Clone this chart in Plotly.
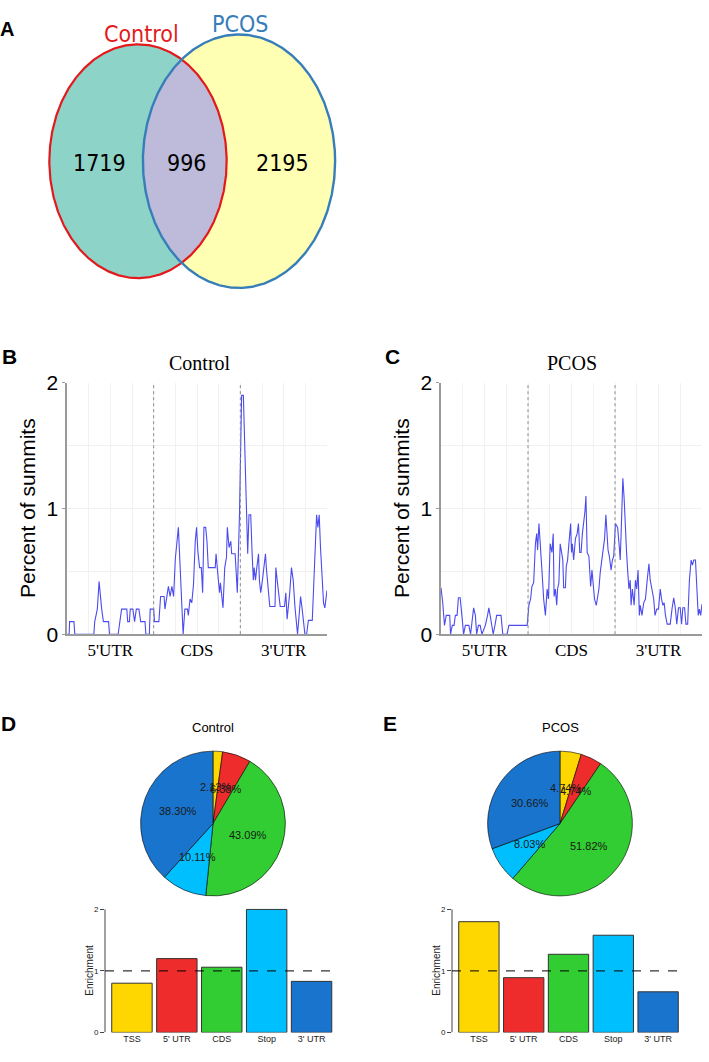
import numpy as np
import plotly.graph_objects as go

W, H = 709, 1062

# ---------------- data ----------------
venn_only_control = 1719
venn_shared = 996
venn_only_pcos = 2195
venn_names = ["Control", "PCOS"]

region_labels = ["5'UTR", "CDS", "3'UTR"]

ctrl_x = [0.00, 0.025, 0.03, 0.08, 0.09, 0.31, 0.32, 0.35, 0.37, 0.385, 0.40, 0.42, 0.48, 0.49, 0.59, 0.61,
          0.63, 0.69, 0.70, 0.72, 0.73, 0.76, 0.78, 0.80, 0.83, 0.85, 0.90, 0.91, 0.95, 0.96, 1.00, 1.01,
          1.06, 1.08, 1.12, 1.13, 1.15, 1.17, 1.19, 1.21, 1.23, 1.25, 1.285, 1.31, 1.33, 1.34, 1.36, 1.39,
          1.40, 1.42, 1.44, 1.46, 1.48, 1.495, 1.51, 1.53, 1.55, 1.565, 1.58, 1.60, 1.615, 1.63, 1.71, 1.72,
          1.735, 1.76, 1.77, 1.78, 1.80, 1.82, 1.84, 1.85, 1.87, 1.89, 1.90, 1.94, 1.95, 1.965, 1.99, 2.00,
          2.015, 2.035, 2.05, 2.07, 2.085, 2.10, 2.12, 2.135, 2.15, 2.16, 2.175, 2.19, 2.21, 2.22, 2.235,
          2.255, 2.27, 2.29, 2.30, 2.315, 2.33, 2.34, 2.40, 2.41, 2.425, 2.44, 2.46, 2.51, 2.525, 2.54,
          2.555, 2.57, 2.59, 2.61, 2.63, 2.65, 2.66, 2.675, 2.695, 2.71, 2.725, 2.745, 2.765, 2.785, 2.83,
          2.85, 2.865, 2.88, 2.895, 2.91, 2.925, 2.94, 2.96, 2.975, 3.00]
ctrl_y = [0, 0, 0.1, 0.1, 0, 0, 0.1, 0.2, 0.42, 0.3, 0.2, 0.1, 0.1, 0, 0, 0.1,
          0.2, 0.2, 0.1, 0.1, 0.2, 0.2, 0.1, 0.2, 0.2, 0.1, 0.1, 0, 0, 0.2, 0.2, 0.1,
          0.1, 0.3, 0.3, 0.2, 0.3, 0.38, 0.3, 0.38, 0.3, 0.6, 0.85, 0.5, 0.15, 0, 0.2, 0.2,
          0.15, 0.28, 0.25, 0.4, 0.74, 0.85, 0.66, 0.53, 0.53, 0.33, 0.85, 0.85, 0.74, 0.53, 0.53, 0.64,
          0.52, 0.33, 0.41, 0.33, 0.21, 0.53, 0.61, 0.85, 0.69, 0.74, 0.64, 0.64, 0.53, 0.33, 0.95, 1.47,
          1.90, 1.90, 1.47, 1.03, 0.64, 0.95, 0.95, 0.66, 0.43, 0.53, 0.43, 0.53, 0.64, 0.43, 0.33,
          0.43, 0.53, 0.64, 0.53, 0.43, 0.33, 0.22, 0.22, 0.53, 0.43, 0.33, 0.22, 0.22, 0.33, 0.12,
          0.22, 0.33, 0.53, 0.43, 0.22, 0.10, 0, 0.12, 0.30, 0.22, 0.12, 0, 0, 0.11, 0.11,
          0.46, 0.74, 0.95, 0.85, 0.95, 0.69, 0.46, 0.25, 0.21, 0.35]

pcos_x = [0.00, 0.02, 0.04, 0.06, 0.10, 0.11, 0.13, 0.15, 0.165, 0.185, 0.20, 0.22, 0.24, 0.26, 0.28, 0.32,
          0.34, 0.36, 0.375, 0.395, 0.41, 0.43, 0.45, 0.47, 0.51, 0.535, 0.55, 0.565, 0.58, 0.60, 0.62,
          0.64, 0.69, 0.71, 0.76, 0.78, 0.99, 1.01, 1.03, 1.045, 1.065, 1.085, 1.10, 1.11, 1.126, 1.14,
          1.16, 1.18, 1.20, 1.22, 1.235, 1.255, 1.275, 1.29, 1.30, 1.315, 1.33, 1.34, 1.355, 1.37, 1.385,
          1.40, 1.41, 1.43, 1.44, 1.455, 1.47, 1.49, 1.50, 1.51, 1.525, 1.545, 1.565, 1.58, 1.595, 1.61,
          1.625, 1.64, 1.655, 1.666, 1.68, 1.70, 1.72, 1.735, 1.75, 1.765, 1.785, 1.80, 1.815, 1.83, 1.85,
          1.87, 1.88, 1.895, 1.91, 1.92, 1.935, 1.955, 1.97, 1.985, 2.005, 2.03, 2.05, 2.06, 2.075, 2.09,
          2.105, 2.12, 2.133, 2.145, 2.16, 2.175, 2.185, 2.20, 2.22, 2.235, 2.25, 2.265, 2.28, 2.29, 2.31,
          2.33, 2.35, 2.37, 2.39, 2.405, 2.425, 2.445, 2.46, 2.48, 2.50, 2.52, 2.535, 2.55, 2.565, 2.58,
          2.60, 2.635, 2.655, 2.675, 2.695, 2.71, 2.73, 2.75, 2.765, 2.78, 2.80, 2.815, 2.835, 2.855,
          2.875, 2.89, 2.905, 2.925, 2.94, 2.957, 2.97, 2.985, 3.00]
pcos_y = [0.37, 0.25, 0.07, 0.15, 0.15, 0, 0.07, 0.07, 0.15, 0.15, 0.29, 0.29, 0.15, 0, 0.07, 0.07,
          0, 0.15, 0.21, 0.15, 0, 0.07, 0.07, 0, 0.07, 0.15, 0.21, 0.15, 0.07, 0, 0.07,
          0.15, 0.15, 0, 0, 0.07, 0.07, 0.23, 0.28, 0.38, 0.41, 0.72, 0.80, 0.67, 0.88, 0.69,
          0.51, 0.28, 0.15, 0.36, 0.28, 0.72, 0.65, 0.80, 0.30, 0.36, 0.23, 0.36, 0.41, 0.72, 0.65,
          0.59, 0.37, 0.37, 0.54, 0.59, 0.72, 0.88, 0.65, 0.72, 0.59, 0.76, 0.80, 0.88, 0.65, 0.65,
          0.80, 0.88, 0.98, 1.10, 0.65, 0.62, 0.38, 0.51, 0.36, 0.28, 0.23, 0.30, 0.36, 0.49, 0.59,
          0.73, 0.76, 0.95, 0.82, 0.67, 0.62, 0.51, 0.59, 0.62, 0.88, 0.85, 0.69, 0.59, 0.90, 1.24,
          1.08, 0.80, 0.65, 0.51, 0.36, 0.43, 0.23, 0.36, 0.23, 0.43, 0.36, 0.51, 0.15, 0.23, 0.15,
          0.25, 0.28, 0.43, 0.56, 0.43, 0.36, 0.28, 0.15, 0.20, 0.20, 0.36, 0.28, 0.23, 0.25, 0.15,
          0.08, 0.08, 0.20, 0.29, 0.20, 0.08, 0.21, 0.21, 0.08, 0.21, 0.21, 0.08, 0.08, 0.43,
          0.59, 0.55, 0.59, 0.59, 0.38, 0.15, 0.20, 0.15, 0.24]

feature_categories = ["TSS", "5' UTR", "CDS", "Stop", "3' UTR"]
feature_colors = ["#FFD700", "#EE2C2C", "#32CD32", "#00BFFF", "#1874CD"]
pie_control = [2.13, 6.38, 43.09, 10.11, 38.30]
pie_pcos = [4.74, 4.74, 51.82, 8.03, 30.66]
enrich_control = [0.80, 1.20, 1.06, 2.00, 0.83]
enrich_pcos = [1.80, 0.89, 1.27, 1.58, 0.66]


def fx(px):
    return px / W


def fy(py):
    return 1 - py / H


fig = go.Figure()
annotations = []
shapes = []

# ---------------- Panel A: Venn (canvas axes in pixel units) ----------------
tot_c = venn_only_control + venn_shared
tot_p = venn_only_pcos + venn_shared
k = 119.5 / np.sqrt(tot_c)
aspect = 0.742
ry_c, ry_p = k * np.sqrt(tot_c), k * np.sqrt(tot_p)
rx_c, rx_p = ry_c * aspect, ry_p * aspect
cxc, cyc = 138, 152.5
cxp, cyp = 239, 152.5

th = np.linspace(-np.pi, np.pi, 721)
ex_c = cxc + rx_c * np.cos(th)
ey_c = cyc + ry_c * np.sin(th)
th2 = np.linspace(0, 2 * np.pi, 721)
ex_p = cxp + rx_p * np.cos(th2)
ey_p = cyp + ry_p * np.sin(th2)

in_p = ((ex_c - cxp) / rx_p) ** 2 + ((ey_c - cyp) / ry_p) ** 2 <= 1
in_c = ((ex_p - cxc) / rx_c) ** 2 + ((ey_p - cyc) / ry_c) ** 2 <= 1
lens_x = np.concatenate([ex_c[in_p], ex_p[in_c]])
lens_y = np.concatenate([ey_c[in_p], ey_p[in_c]])

cv = dict(xaxis="x5", yaxis="y5", hoverinfo="skip", showlegend=False)
fig.add_trace(go.Scatter(x=ex_c, y=ey_c, fill="toself", fillcolor="#8DD3C7", mode="none", **cv))
fig.add_trace(go.Scatter(x=ex_p, y=ey_p, fill="toself", fillcolor="#FFFFB3", mode="none", **cv))
fig.add_trace(go.Scatter(x=lens_x, y=lens_y, fill="toself", fillcolor="#BEBADA", mode="none", **cv))
fig.add_trace(go.Scatter(x=ex_c, y=ey_c, mode="lines", line=dict(color="#E31A1C", width=2.2), **cv))
fig.add_trace(go.Scatter(x=ex_p, y=ey_p, mode="lines", line=dict(color="#377EB8", width=2.4), **cv))

narrow = ("Liberation Sans Narrow, Arial Narrow, DejaVu Sans Condensed, Roboto Condensed, "
          "Roboto, Liberation Sans, Arial, sans-serif")
sans = "Liberation Sans, Arial, sans-serif"


def cann(text, x, y, size, color="black", family=sans, **kw):
    annotations.append(dict(text=text, x=x, y=y, xref="x5", yref="y5", showarrow=False,
                            font=dict(size=size, color=color, family=family),
                            xanchor="center", yanchor="middle", **kw))


cann("Control", 141, 22, 23, "#E31A1C", narrow)
cann("PCOS", 240, 12, 23, "#377EB8", narrow)
cann(str(venn_only_control), 99, 154, 23, "black", narrow)
cann(str(venn_shared), 187, 154, 23, "black", narrow)
cann(str(venn_only_pcos), 282, 154, 23, "black", narrow)

cann("<b>A</b>", 7, 17, 20, "black", sans)
cann("<b>B</b>", 9, 352, 21, "black", sans)
cann("<b>C</b>", 392, 352, 21, "black", sans)
cann("<b>D</b>", 8, 727, 21, "black", sans)
cann("<b>E</b>", 390, 727, 21, "black", sans)

# ---------------- Panels B / C: summit distribution ----------------
serif = "Liberation Serif, Times New Roman, serif"
line_col = "#4B4BEF"
for i, (xs, ys, title, x0, x1) in enumerate([
        (ctrl_x, ctrl_y, "Control", 67, 327),
        (pcos_x, pcos_y, "PCOS", 441, 702)]):
    ax = "" if i == 0 else "2"
    fig.add_trace(go.Scatter(x=xs, y=ys, mode="lines", line=dict(color=line_col, width=1.1),
                             xaxis="x" + ax, yaxis="y" + ax, showlegend=False, hoverinfo="skip"))
    fig.layout["xaxis" + ax] = dict(
        domain=[fx(x0), fx(x1)], range=[0, 3], anchor="y" + ax,
        tickmode="array", tickvals=[0.5, 1.5, 2.5], ticktext=region_labels,
        tickfont=dict(family=serif, size=17, color="black"), ticks="",
        showline=True, linecolor="#9a9a9a", linewidth=1.6,
        showgrid=False, zeroline=False,
        minor=dict(dtick=0.25, tick0=0, showgrid=True, gridcolor="#f1f1f1", gridwidth=1),
        fixedrange=True)
    fig.layout["yaxis" + ax] = dict(
        domain=[fy(636), fy(379)], range=[0, 2], anchor="x" + ax,
        tickmode="array", tickvals=[0, 1, 2], ticktext=["0", "1", "2"],
        tickfont=dict(family=sans, size=21, color="black"),
        ticks="outside", ticklen=3, tickcolor="#9a9a9a",
        showline=True, linecolor="#9a9a9a", linewidth=1.6,
        showgrid=True, gridcolor="#f1f1f1", zeroline=False,
        minor=dict(dtick=0.5, tick0=0, showgrid=True, gridcolor="#f1f1f1"),
        fixedrange=True)
    for xv in [1, 2]:
        shapes.append(dict(type="line", xref="x" + ax, yref="y" + ax + " domain", x0=xv, x1=xv, y0=0, y1=1,
                           line=dict(color="#8a8a8a", width=1, dash="dot")))
    cann(title, 200 if i == 0 else 572, 359, 20, "black", serif)
    cann("Percent of summits", 27 if i == 0 else 401, 507, 21, "black", sans, textangle=-90)

# ---------------- Panels D / E: pies + enrichment bars ----------------
for i, (vals, enr, title, pcx, bx0, bx1) in enumerate([
        (pie_control, enrich_control, "Control", 213, 105, 338.5),
        (pie_pcos, enrich_pcos, "PCOS", 560, 452, 685)]):
    pcy, r = 829.5, 74
    fig.add_trace(go.Pie(values=vals, labels=feature_categories, sort=False, direction="clockwise",
                         rotation=0, textinfo="none", hoverinfo="skip", showlegend=False,
                         marker=dict(colors=feature_colors, line=dict(color="black", width=0.6)),
                         domain=dict(x=[fx(pcx - r), fx(pcx + r)], y=[fy(pcy + r), fy(pcy - r)])))
    cann(title, pcx, 731, 13, "black", sans)
    total = float(sum(vals))
    cum = np.cumsum([0] + list(vals))
    for j, v in enumerate(vals):
        mid = (cum[j] + cum[j + 1]) / 2 / total * 2 * np.pi
        lx = pcx + 0.5 * r * np.sin(mid)
        ly = pcy - 0.5 * r * np.cos(mid)
        cann(f"{v:.2f}%", lx, ly, 11, "#1a1a1a", sans)

    ax = str(3 + i)
    fig.add_trace(go.Bar(x=list(range(len(enr))), y=enr, width=0.9,
                         marker=dict(color=feature_colors, line=dict(color="#333333", width=1)),
                         xaxis="x" + ax, yaxis="y" + ax, showlegend=False, hoverinfo="skip"))
    fig.layout["xaxis" + ax] = dict(
        domain=[fx(bx0), fx(bx1)], range=[-0.6, 4.6], anchor="y" + ax,
        tickmode="array", tickvals=list(range(5)), ticktext=feature_categories,
        tickfont=dict(family=sans, size=9, color="#222"),
        ticks="", showline=False, showgrid=False, zeroline=False, fixedrange=True)
    fig.layout["yaxis" + ax] = dict(
        domain=[fy(1043), fy(916)], range=[0, 2.02], anchor="x" + ax,
        tickmode="array", tickvals=[0, 1, 2], ticktext=["0", "1", "2"],
        tickfont=dict(family=sans, size=8, color="#222"),
        ticks="outside", ticklen=4, tickcolor="#444", showline=False,
        showgrid=False, zeroline=False, fixedrange=True)
    shapes.append(dict(type="line", xref="x" + ax + " domain", yref="y" + ax, x0=0, x1=0, y0=0, y1=2,
                       line=dict(color="#444", width=1)))
    shapes.append(dict(type="line", xref="x" + ax + " domain", yref="y" + ax, x0=0, x1=1, y0=1, y1=1,
                       line=dict(color="black", width=1, dash="dash")))
    cann("Enrichment", 90 if i == 0 else 437, 980, 10, "#222", sans, textangle=-90)

fig.layout["xaxis5"] = dict(domain=[0, 1], range=[0, W], visible=False, fixedrange=True, anchor="y5")
fig.layout["yaxis5"] = dict(domain=[0, 1], range=[H, 0], visible=False, fixedrange=True, anchor="x5")

fig.update_layout(width=W, height=H, margin=dict(l=0, r=0, t=0, b=0),
                  paper_bgcolor="white", plot_bgcolor="rgba(0,0,0,0)",
                  annotations=annotations, shapes=shapes, bargap=0.1)

fig.write_html("out.html", config={"displayModeBar": False, "staticPlot": True},
               post_script="document.body.style.margin='0';document.body.style.overflow='hidden';")
